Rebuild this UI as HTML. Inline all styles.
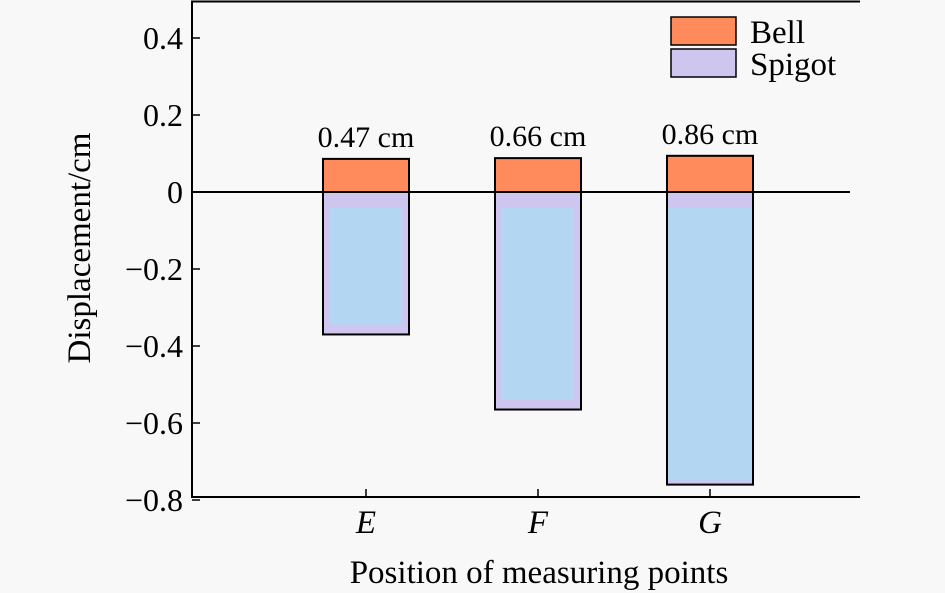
<!DOCTYPE html>
<html><head><meta charset="utf-8"><style>
html,body{margin:0;padding:0;background:#f8f8f8;}
svg{display:block;font-family:"Liberation Serif",serif;}
</style></head><body>
<svg width="945" height="593" viewBox="0 0 945 593">
<g id="plot"></g>
</svg>
<script>
const categories = ["E","F","G"];
const bellValues = [0.086, 0.088, 0.094];
const spigotValues = [-0.37, -0.565, -0.76];
const totalLabels = ["0.47 cm","0.66 cm","0.86 cm"];
const yTicks = [0.4, 0.2, 0, -0.2, -0.4, -0.6, -0.8];
const yTickLabels = ["0.4","0.2","0","\u22120.2","\u22120.4","\u22120.6","\u22120.8"];

const NS="http://www.w3.org/2000/svg";
const g=document.getElementById('plot');
const X0=192, X1=860, Y0=192, PPU=385;
const y=v=>Y0-v*PPU;
const xc=i=>366+i*172;
const BW=86;
function mk(t,a,txt){const e=document.createElementNS(NS,t);for(const k in a)e.setAttribute(k,a[k]);if(txt!==undefined)e.textContent=txt;g.appendChild(e);return e;}

categories.forEach((c,i)=>{
  const l=xc(i)-BW/2;
  let e=mk('rect',{x:l,y:y(0),width:BW,height:y(spigotValues[i])-y(0),fill:'#cfc6ef',stroke:'#000',"stroke-width":2});
  
  
  const ins=i===2?1:7;
  const bot=i===2?4:10;
  e=mk('rect',{x:l+ins,y:y(0)+16,width:BW-2*ins,height:Math.max(0,y(spigotValues[i])-y(0)-16-bot),fill:'#b3d6f2'});
  
  
  e=mk('rect',{x:l,y:y(bellValues[i]),width:BW,height:y(0)-y(bellValues[i]),fill:'#ff8a5c',stroke:'#000',"stroke-width":2});
  
  
  e=mk('text',{x:xc(i),y:y(bellValues[i])-12,"text-anchor":"middle","font-size":30,fill:'#000'},totalLabels[i]);
  
  
  e=mk('line',{x1:xc(i),x2:xc(i),y1:497,y2:489,stroke:'#000',"stroke-width":1.5});
  
  
  e=mk('text',{x:xc(i),y:533,"text-anchor":"middle","font-size":33,"font-style":"italic"},c);
  
  
});
let z=mk('line',{x1:X0,x2:850,y1:y(0),y2:y(0),stroke:'#000',"stroke-width":2});


let a=mk('path',{d:`M${X1},1.5 H${X0} V497 H${X1}`,fill:'none',stroke:'#000',"stroke-width":2});


yTicks.forEach((v,i)=>{
  let t=mk('line',{x1:X0,x2:X0+8,y1:y(v),y2:y(v),stroke:'#000',"stroke-width":1.5});
  
  
  t=mk('text',{x:183,y:y(v)+11,"text-anchor":"end","font-size":32},yTickLabels[i]);
  
  
});
let tt=mk('text',{x:0,y:0,"text-anchor":"middle","font-size":33,transform:"translate(90,248) rotate(-90)"},"Displacement/cm");


tt=mk('text',{x:539,y:583,"text-anchor":"middle","font-size":33},"Position of measuring points");


let lg=mk('rect',{x:671,y:17,width:65,height:28,fill:'#ff8a5c',stroke:'#000',"stroke-width":1.5});


lg=mk('text',{x:750,y:43,"font-size":33},"Bell");


lg=mk('rect',{x:671,y:49,width:65,height:28,fill:'#cfc6ef',stroke:'#000',"stroke-width":1.5});


lg=mk('text',{x:750,y:75,"font-size":33},"Spigot");


</script>
</body></html>
